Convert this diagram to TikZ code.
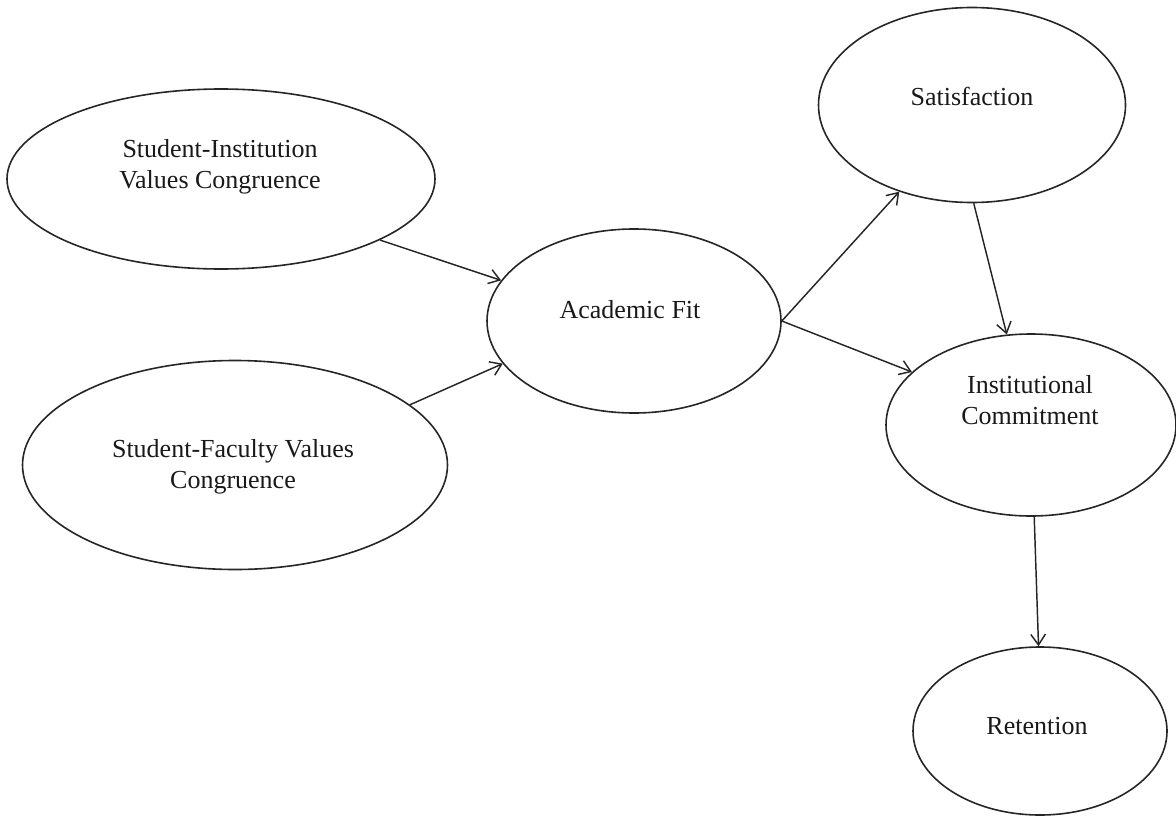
\documentclass[tikz,border=0pt]{standalone}
\usepackage{fontspec}
\setmainfont{Liberation Serif}
\usetikzlibrary{shapes.geometric,arrows.meta}
\tikzset{
  oval/.style={draw=black!85, line width=1.2pt, ellipse, inner sep=0pt},
  lbl/.style={align=center, inner sep=0pt, font=\fontsize{19.5}{23}\selectfont, text=black!90},
  conn/.style={draw=black!85, line width=1.1pt, -{Straight Barb[length=8pt,width=11pt,line width=1.1pt]}}
}
\begin{document}
\begin{tikzpicture}[x=0.75pt,y=-0.75pt]
\useasboundingbox (0,0) rectangle (1176,817);
\node[oval, minimum width=321pt, minimum height=135pt] (si) at (221,179) {};
\node[oval, minimum width=318.75pt, minimum height=156.75pt] (sf) at (235,465) {};
\node[oval, minimum width=220.5pt, minimum height=138pt] (af) at (634,321) {};
\node[oval, minimum width=230.25pt, minimum height=146.25pt] (sat) at (972,105) {};
\node[oval, minimum width=217.5pt, minimum height=136.5pt] (ic) at (1031,425) {};
\node[oval, minimum width=190.5pt, minimum height=126pt] (ret) at (1040,731) {};

\node[lbl] (siT) at (220,167) {Student-Institution\\Values Congruence};
\node[lbl] (sfT) at (233,467) {Student-Faculty Values\\Congruence};
\node[lbl] (afT) at (630,310) {Academic Fit};
\node[lbl] (satT) at (972,96) {Satisfaction};
\node[lbl] (icT) at (1030,400) {Institutional\\Commitment};
\node[lbl] (retT) at (1037,726) {Retention};

\draw[conn] (si.-21) -- (af.163.5);
\draw[conn] (sf.19.7) -- (af.-162.9);
\draw[conn] (af.0) -- (sat.-130.1);
\draw[conn] (af.0) -- (ic.156.4);
\draw[conn] (sat.-89.4) -- (ic.105.9);
\draw[conn] (ic.-88.8) -- (ret.91.3);
\end{tikzpicture}
\end{document}
